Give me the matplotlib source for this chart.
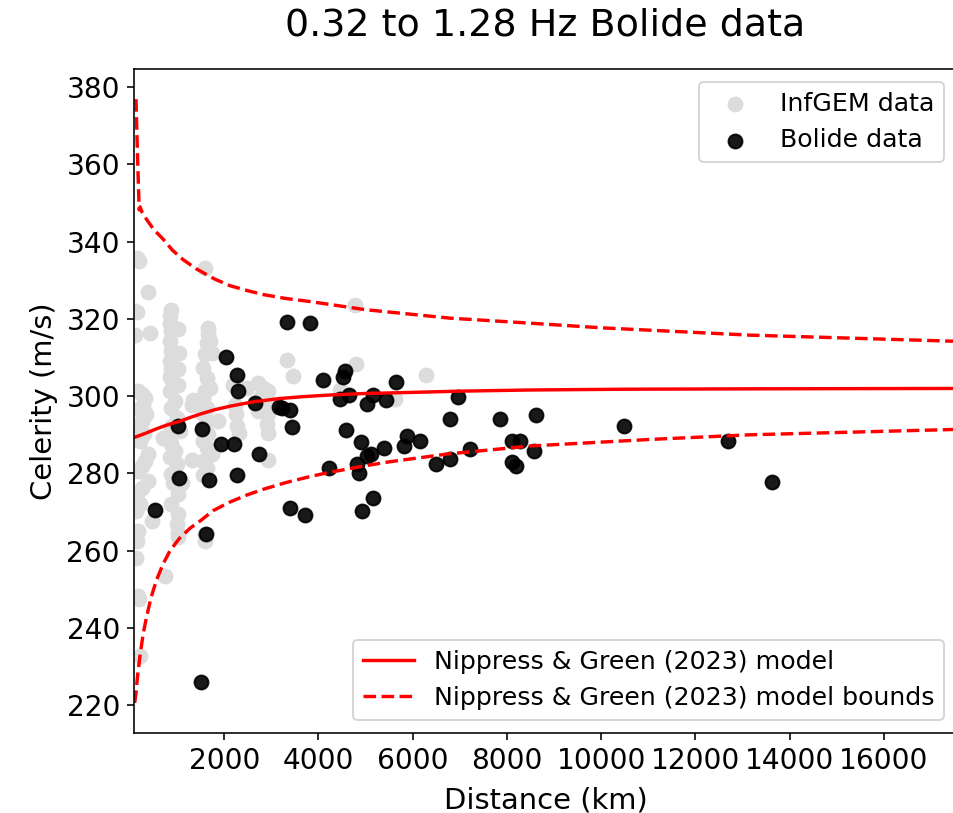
# Import packages
import matplotlib
matplotlib.use('Agg')
import matplotlib.pyplot as plt
import numpy as np

# InfGEM data (distance km, celerity m/s)
infgem_dist = [198, 389, 106, 150, 424, 106, 150, 1592,
               180, 250, 320, 280, 200, 350, 250, 180, 300, 220, 390, 320,
               260, 180, 390, 250, 150, 210, 120, 460, 170, 150, 120, 743,
               160, 200, 210,
               860, 850, 850, 880, 1025, 850, 880, 1045, 850, 880, 1025, 850,
               920, 1025, 850, 955, 880, 990, 880, 1060, 850, 880, 955, 850,
               990, 880, 1095, 920, 1025, 880, 1025, 990, 1025, 1025, 707,
               1309, 1344, 1309,
               1662, 1662, 1627, 1698, 1592, 1733, 1556, 1627, 1698, 1592,
               1556, 1627, 1556, 1627, 1556, 1662, 1556, 1627, 1733, 1556,
               1627, 1556, 1592, 1592, 1875,
               2193, 2476, 2228, 2250, 2278, 2320,
               2723, 2830, 2936, 2759, 2900, 2723, 2936, 2900, 2936, 2936,
               3325, 3452, 4775, 4796, 6275, 4457, 5624]
infgem_cel = [335.1, 326.9, 322.0, 321.7, 316.4, 315.9, 335.8, 333.1,
              301.3, 300.5, 299.6, 297.8, 296.6, 295.3, 293.5, 292.0, 290.1,
              288.5, 284.9, 283.2, 281.8, 280.6, 278.0, 276.3, 274.6, 272.0,
              270.3, 267.7, 265.1, 262.5, 258.2, 253.4, 248.3, 247.4, 232.8,
              322.4, 320.7, 318.6, 316.9, 317.3, 314.3, 311.7, 311.3, 309.2,
              307.1, 307.1, 305.0, 303.3, 302.9, 301.3, 298.7, 297.0, 294.4,
              291.9, 291.0, 289.3, 287.6, 285.9, 284.2, 282.5, 279.9, 277.4,
              277.4, 274.8, 272.2, 269.6, 267.0, 264.5, 263.6, 289.2,
              283.6, 298.9, 297.8,
              317.7, 316.0, 313.8, 314.2, 310.8, 311.2, 307.3, 304.7, 302.2,
              301.3, 299.6, 297.0, 295.3, 293.5, 291.8, 290.1, 288.4, 286.6,
              284.9, 283.2, 281.5, 279.7, 264.2, 262.5, 293.5,
              303.0, 302.2, 297.8, 295.3, 292.2, 290.5,
              303.4, 302.2, 301.3, 299.6, 298.7, 296.1, 295.3, 292.7, 290.5,
              283.6,
              309.4, 305.3, 323.6, 308.4, 305.5, 301.7, 299.3]

# Bolide data
bolide_dist = [3339, 3827, 2030, 2278, 2299, 4089, 2653, 3162, 3219, 3396,
               3445, 1012, 1528, 1938, 2214, 2731, 1033, 1669, 2278, 4216,
               538, 3388, 3721, 1613, 1514,
               4563, 4513, 5645, 4655, 4457, 5150, 5037, 5433, 6968, 6798,
               7852, 4577, 4896, 5871, 6154, 5822, 5390, 5108, 5023, 7216,
               8100, 8277, 4824, 4860, 6494, 6791, 8114, 8185, 5164, 4930,
               8610, 10490, 8574, 12685, 13632]
bolide_cel = [319.2, 318.9, 310.1, 305.6, 301.3, 304.2, 298.3, 297.2, 297.0,
              296.3, 292.0, 292.4, 291.6, 287.5, 287.5, 284.9, 278.9, 278.2,
              279.6, 281.3, 270.5, 271.1, 269.2, 264.4, 225.9,
              306.5, 304.9, 303.6, 300.3, 299.3, 300.3, 298.1, 299.1, 299.8,
              294.1, 294.2, 291.2, 288.2, 289.6, 288.3, 287.1, 286.5, 285.1,
              284.4, 286.3, 288.5, 288.5, 282.4, 280.1, 282.4, 283.8, 282.9,
              282.0, 273.7, 270.4,
              295.0, 292.3, 285.9, 288.5, 277.8]

# Nippress & Green (2023) model and bounds
model_dist = [85, 200, 354, 530, 707, 880, 1061, 1280, 1500, 1800, 2122,
              2600, 3183, 3700, 4244, 5000, 5730, 7000, 8490, 10500, 13160,
              17550]
model_cel = [289.3, 289.8, 290.5, 291.4, 292.2, 292.9, 293.5, 294.5, 295.4,
             296.5, 297.4, 298.5, 299.4, 299.9, 300.3, 300.7, 300.9, 301.3,
             301.6, 301.8, 301.9, 302.0]

upper_dist = [127, 160, 195, 215, 260, 350, 500, 707, 900, 1132, 1415, 1800,
              2123, 2500, 2830, 3300, 3820, 4990, 6790, 8490, 10000, 13160,
              17550]
upper_cel = [376.9, 362.0, 348.2, 349.0, 347.5, 345.8, 343.2, 340.6, 337.8,
             335.3, 332.9, 330.3, 328.6, 327.3, 326.3, 325.3, 324.5, 322.4,
             320.2, 318.9, 317.7, 315.8, 314.2]

lower_dist = [100, 130, 160, 212, 280, 354, 450, 566, 700, 849, 1050, 1273,
              1500, 1768, 2123, 2476, 2830, 3300, 3820, 4244, 5000, 5500,
              6720, 8490, 11040, 13160, 17550]
lower_cel = [220.6, 223.5, 227.5, 232.8, 238.5, 243.0, 248.0, 252.5, 256.5,
             260.0, 263.2, 265.8, 267.8, 270.4, 272.6, 274.4, 275.9, 277.6,
             279.2, 280.3, 282.0, 283.0, 285.0, 287.1, 288.8, 290.0, 291.4]

# Create figure
fig = plt.figure(figsize=(953 / 144, 813 / 144), dpi=144)
ax = fig.add_axes([134 / 953, 1 - 733 / 813, (957 - 134) / 953, (733 - 69) / 813])

infgem = ax.scatter(infgem_dist, infgem_cel, s=48, color='#dcdcdc',
                    label='InfGEM data')
bolide = ax.scatter(bolide_dist, bolide_cel, s=48, color='k', alpha=0.9,
                    label='Bolide data')
model_line, = ax.plot(model_dist, model_cel, color='red', lw=1.7,
                      label='Nippress & Green (2023) model')
bound_line, = ax.plot(upper_dist, upper_cel, color='red', ls='--', lw=1.7,
                      label='Nippress & Green (2023) model bounds')
ax.plot(lower_dist, lower_cel, color='red', ls='--', lw=1.7)

ax.set_xlim(85, 17550)
ax.set_ylim(212.8, 384.7)
ax.set_xticks(np.arange(2000, 17000, 2000))
ax.tick_params(labelsize=14)
ax.set_xlabel('Distance (km)', fontsize=14.5, labelpad=5.5)
ax.set_ylabel('Celerity (m/s)', fontsize=14.5)
ax.set_title('0.32 to 1.28 Hz Bolide data', fontsize=19, pad=16.5)

# Two legends: points in the upper right, model lines in the lower right
leg1 = ax.legend(handles=[infgem, bolide], loc='upper right', fontsize=12.6)
ax.add_artist(leg1)
ax.legend(handles=[model_line, bound_line], loc='lower right', fontsize=12.6)

fig.savefig('out.png', dpi=144)
